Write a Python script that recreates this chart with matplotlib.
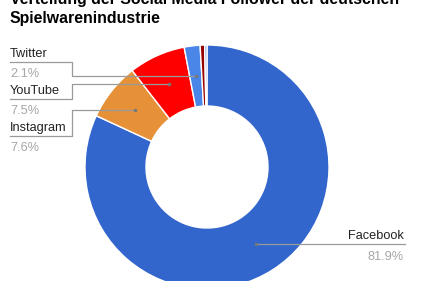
import numpy as np
import matplotlib
matplotlib.use('Agg')
import matplotlib.pyplot as plt

plt.rcParams['font.family'] = ['Liberation Sans', 'DejaVu Sans']

# Daten
title_lines = ['Verteilung der Social Media Follower der deutschen', 'Spielwarenindustrie']
labels = ['Facebook', 'Instagram', 'YouTube', 'Twitter', 'Sonstige 1', 'Sonstige 2']
values = [81.9, 7.6, 7.5, 2.1, 0.6, 0.3]
colors = ['#3366cc', '#e69138', '#ff0000', '#4a86e8', '#990000', '#8e9ee0']

W, H = 421, 281


def py(y):
    # Pixel-y (von oben) -> Datenkoordinate
    return H - y


fig = plt.figure(figsize=(W / 100, H / 100), dpi=100)
ax = fig.add_axes([0, 0, 1, 1])

cx, cy, r = 207, py(167), 122
ax.pie(values, colors=colors, startangle=90, counterclock=False,
       center=(cx, cy), radius=r, frame=True,
       wedgeprops=dict(width=r * 0.5, edgecolor='white', linewidth=1))
ax.set_xlim(0, W)
ax.set_ylim(0, H)
ax.set_aspect('equal')
ax.axis('off')

# Spitzen der Beschriftungslinien (Mitte des Rings, Mitte des Segments)
total = sum(values)
cum = np.cumsum([0] + values)
rm = r * 0.75
tips = {}
for i, lab in enumerate(labels):
    mid = (cum[i] + values[i] / 2) / total
    th = np.deg2rad(90 - 360 * mid)
    tips[lab] = (cx + rm * np.cos(th), cy + rm * np.sin(th))

line_col = '#9a9a9a'
pct_col = '#a6a6a6'
fs = 9.2

# linke Beschriftungen: (Name, Linien-y in Pixel)
left = [('Twitter', 62), ('YouTube', 99), ('Instagram', 136)]
for lab, ly in left:
    tx, ty = tips[lab]
    ax.plot([10, 72, 72, tx], [py(ly), py(ly), ty, ty], color=line_col, lw=0.9)
    ax.plot(tx, ty, 'o', color='#777777', ms=1.5)
    ax.text(10, py(ly - 5), lab, fontsize=fs, color='#222222', va='baseline', ha='left')
    ax.text(10, py(ly + 15), f'{values[labels.index(lab)]:.1f}%', fontsize=fs,
            color=pct_col, va='baseline', ha='left')

# Facebook rechts
tx, ty = tips['Facebook']
ax.plot([tx, 405], [ty, ty], color=line_col, lw=0.9)
ax.plot(tx, ty, 'o', color='#777777', ms=1.5)
ly = H - ty
ax.text(404, py(ly - 5), 'Facebook', fontsize=fs, color='#222222', va='baseline', ha='right')
ax.text(404, py(ly + 16), f'{values[0]:.1f}%', fontsize=fs, color=pct_col,
        va='baseline', ha='right')

# Titel (oben abgeschnitten wie im Original)
ax.text(10, py(4), title_lines[0], fontsize=11.4, fontweight='bold', color='#000000',
        va='baseline', ha='left')
ax.text(10, py(23), title_lines[1], fontsize=11.4, fontweight='bold', color='#000000',
        va='baseline', ha='left')

fig.savefig('out.png', dpi=100)
